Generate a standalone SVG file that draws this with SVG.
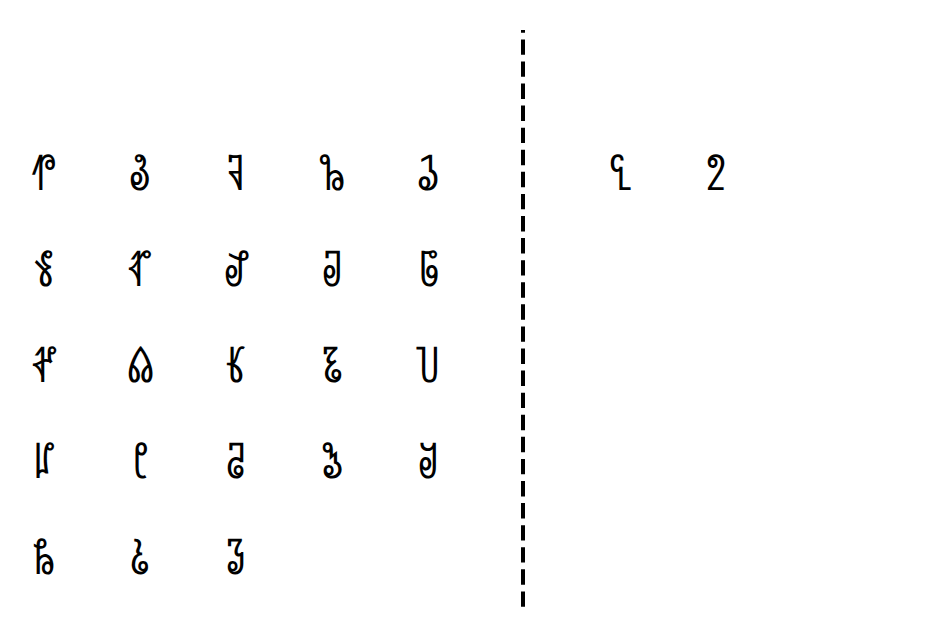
<svg xmlns="http://www.w3.org/2000/svg" width="938" height="637" viewBox="0 0 938 637">
<style>
.t{font-family:"DejaVu Sans",sans-serif;font-size:44px;fill:#000;text-anchor:middle}
.div{stroke:#000;stroke-width:4;stroke-dasharray:15.4 6.68;stroke-dashoffset:12.7;fill:none}
</style>
<rect width="938" height="637" fill="#fff"/>
<g id="connectors">
<line class="div" x1="523" y1="30" x2="523" y2="607"/>
</g>
<g id="n-r1c1"><text class="t" x="44" y="190">&#x110D0;</text></g>
<g id="n-r1c2"><text class="t" x="140" y="190">&#x110D1;</text></g>
<g id="n-r1c3"><text class="t" x="236" y="190">&#x110D2;</text></g>
<g id="n-r1c4"><text class="t" x="332" y="190">&#x110D4;</text></g>
<g id="n-r1c5"><text class="t" x="428" y="190">&#x110D5;</text></g>
<g id="n-r2c1"><text class="t" x="44" y="286">&#x110D6;</text></g>
<g id="n-r2c2"><text class="t" x="140" y="286">&#x110D7;</text></g>
<g id="n-r2c3"><text class="t" x="236" y="286">&#x110D8;</text></g>
<g id="n-r2c4"><text class="t" x="332" y="286">&#x110D9;</text></g>
<g id="n-r2c5"><text class="t" x="428" y="286">&#x110E0;</text></g>
<g id="n-r3c1"><text class="t" x="44" y="382">&#x110E1;</text></g>
<g id="n-r3c2"><text class="t" x="140" y="382">&#x110E2;</text></g>
<g id="n-r3c3"><text class="t" x="236" y="382">&#x110E3;</text></g>
<g id="n-r3c4"><text class="t" x="332" y="382">&#x110E4;</text></g>
<g id="n-r3c5"><text class="t" x="428" y="382">&#x110E5;</text></g>
<g id="n-r4c1"><text class="t" x="44" y="478">&#x110E7;</text></g>
<g id="n-r4c2"><text class="t" x="140" y="478">&#x110E8;</text></g>
<g id="n-r4c3"><text class="t" x="236" y="478">&#x110DA;</text></g>
<g id="n-r4c4"><text class="t" x="332" y="478">&#x110DB;</text></g>
<g id="n-r4c5"><text class="t" x="428" y="478">&#x110DC;</text></g>
<g id="n-r5c1"><text class="t" x="44" y="574">&#x110DD;</text></g>
<g id="n-r5c2"><text class="t" x="140" y="574">&#x110DE;</text></g>
<g id="n-r5c3"><text class="t" x="236" y="574">&#x110DF;</text></g>
<g id="n-right1"><text class="t" x="620" y="190">&#x110D3;</text></g>
<g id="n-right2"><text class="t" x="716" y="190">&#x110E6;</text></g>
</svg>
